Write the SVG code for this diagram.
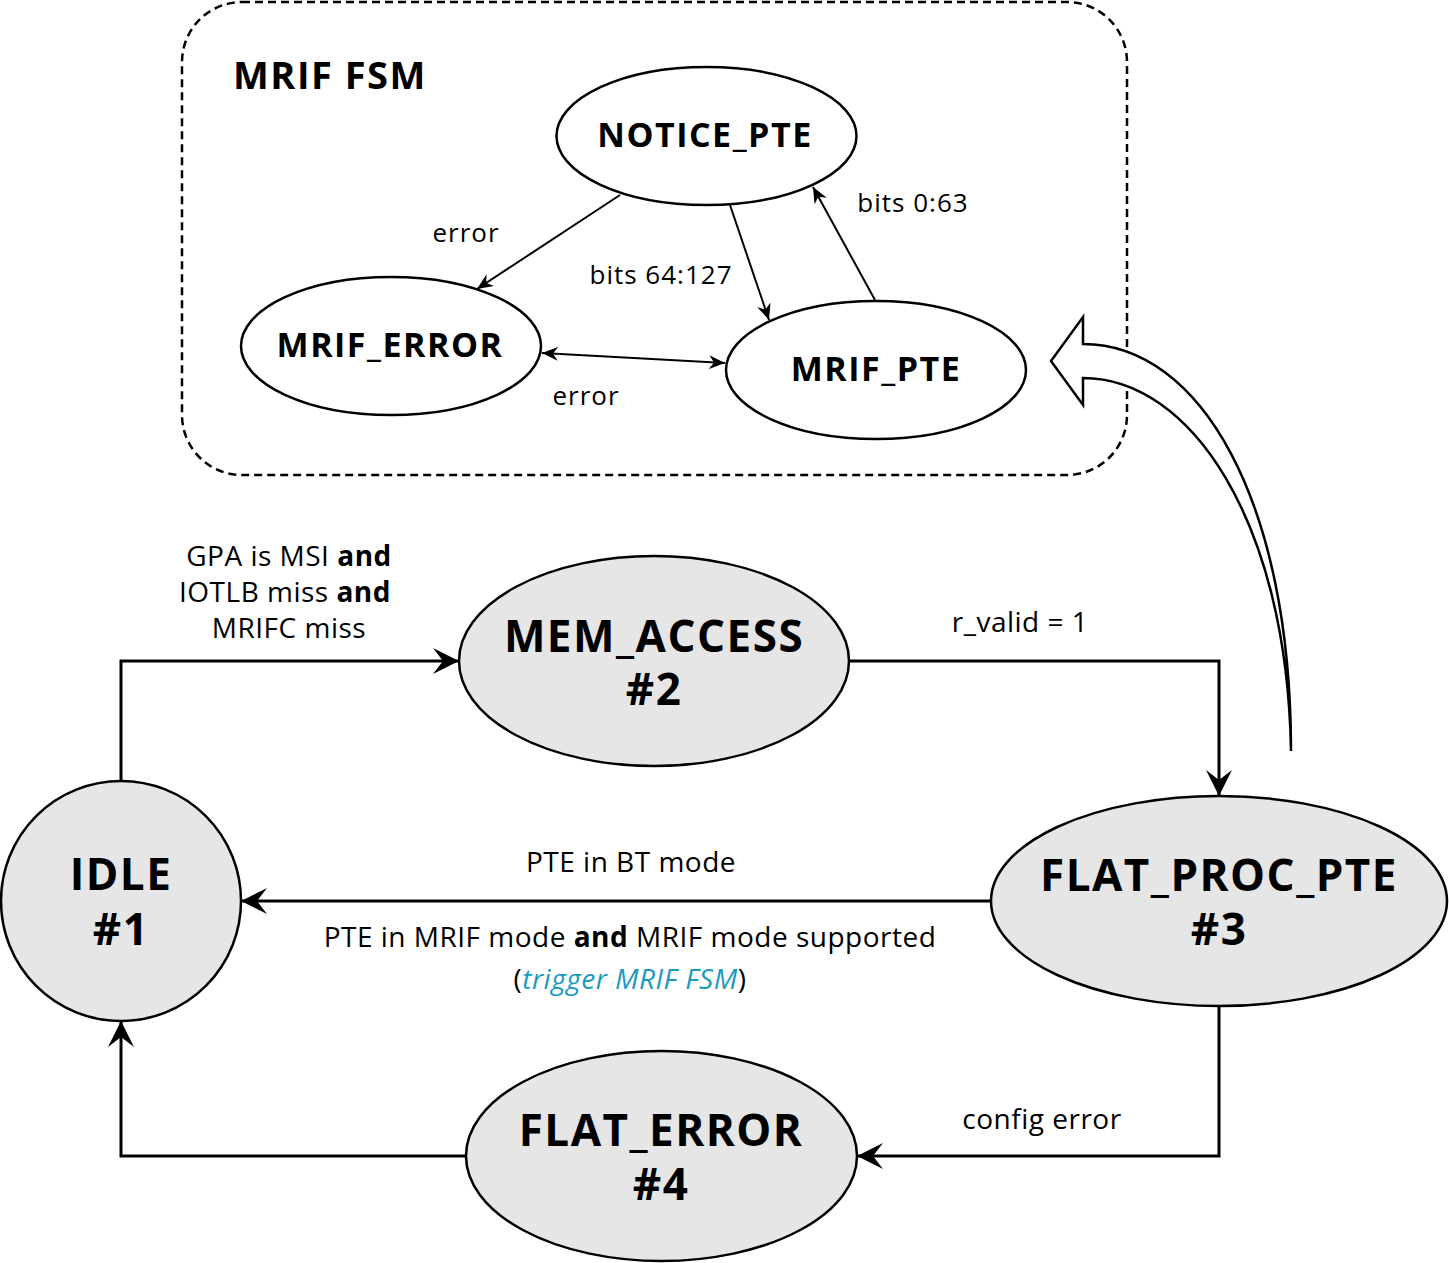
<svg xmlns="http://www.w3.org/2000/svg" width="1449" height="1263" viewBox="0 0 1449 1263">
<style>
text{font-family:"Open Sans","Noto Sans","Liberation Sans",sans-serif;fill:#000;text-anchor:middle}
.big{font-size:44px;font-weight:bold;letter-spacing:1.5px}
.mid{font-size:34px;font-weight:bold;letter-spacing:1.5px}
.lbl{font-size:28px;letter-spacing:0.5px}
.sm{font-size:26px;letter-spacing:1px}
.main{fill:#e6e6e6;stroke:#000;stroke-width:2.5}
.sub{fill:#fff;stroke:#000;stroke-width:2.5}
.conn{fill:none;stroke:#000;stroke-width:3}
.sconn{fill:none;stroke:#000;stroke-width:2}
</style>
<defs>
<marker id="big" markerUnits="userSpaceOnUse" markerWidth="28" markerHeight="28" refX="26" refY="13" orient="auto">
<path d="M0,0 L26,13 L0,26 L10,13 Z" fill="#000"/>
</marker>
<marker id="sa" markerUnits="userSpaceOnUse" markerWidth="18" markerHeight="16" refX="16" refY="7" orient="auto-start-reverse">
<path d="M0,0 L16,7 L0,14 L5,7 Z" fill="#000"/>
</marker>
</defs>
<rect x="182" y="2" width="945" height="473" rx="60" ry="60" fill="none" stroke="#000" stroke-width="2.5" stroke-dasharray="8 5"/>
<text x="233" y="89" style="font-size:38px;font-weight:bold;letter-spacing:1.5px;text-anchor:start">MRIF FSM</text>
<g id="connectors">
<path class="conn" d="M121,781 V661 H459" marker-end="url(#big)"/>
<path class="conn" d="M849,661 H1219 V796" marker-end="url(#big)"/>
<path class="conn" d="M991,901 H241" marker-end="url(#big)"/>
<path class="conn" d="M1219,1006 V1156 H857" marker-end="url(#big)"/>
<path class="conn" d="M466,1156 H121 V1021" marker-end="url(#big)"/>
<path class="sconn" d="M620,195 L477,289" marker-end="url(#sa)"/>
<path class="sconn" d="M730,205 L769,320" marker-end="url(#sa)"/>
<path class="sconn" d="M875,300 L813,187" marker-end="url(#sa)"/>
<path class="sconn" d="M542,353 L725,363" marker-start="url(#sa)" marker-end="url(#sa)"/>
<path d="M1291,751 C1291,500 1200,344 1083,344 L1083,317 L1051,361 L1083,405 L1083,378 C1190,378 1287,520 1291,751 Z" fill="#fff" stroke="#000" stroke-width="2.5" stroke-linejoin="miter"/>
</g>
<g id="labels">
<text class="lbl" x="289" y="566">GPA is MSI <tspan font-weight="bold">and</tspan></text>
<text class="lbl" x="285" y="602">IOTLB miss <tspan font-weight="bold">and</tspan></text>
<text class="lbl" x="289" y="638">MRIFC miss</text>
<text class="lbl" x="1020" y="632">r_valid = 1</text>
<text class="lbl" x="631" y="872">PTE in BT mode</text>
<text class="lbl" x="630" y="947">PTE in MRIF mode <tspan font-weight="bold">and</tspan> MRIF mode supported</text>
<text class="lbl" x="630" y="989">(<tspan fill="#1b9ac0" font-style="italic">trigger MRIF FSM</tspan>)</text>
<text class="lbl" x="1042" y="1129">config error</text>
<text class="sm" x="466" y="242">error</text>
<text class="sm" x="661" y="284">bits 64:127</text>
<text class="sm" x="913" y="212">bits 0:63</text>
<text class="sm" x="586" y="405">error</text>
</g>
<g id="notice_pte"><ellipse class="sub" cx="706.5" cy="136" rx="150" ry="69"/><text class="mid" x="705" y="147">NOTICE_PTE</text></g>
<g id="mrif_error"><ellipse class="sub" cx="391" cy="346" rx="150" ry="69"/><text class="mid" x="390" y="357">MRIF_ERROR</text></g>
<g id="mrif_pte"><ellipse class="sub" cx="876" cy="370" rx="150" ry="69"/><text class="mid" x="876" y="381">MRIF_PTE</text></g>
<g id="idle"><circle class="main" cx="121" cy="901" r="120"/><text class="big" x="121" y="890">IDLE<tspan x="121" dy="55">#1</tspan></text></g>
<g id="mem_access"><ellipse class="main" cx="654" cy="661" rx="195" ry="105"/><text class="big" x="654" y="652">MEM_ACCESS<tspan x="654" dy="53">#2</tspan></text></g>
<g id="flat_proc_pte"><ellipse class="main" cx="1219" cy="901" rx="228" ry="105"/><text class="big" x="1219" y="891">FLAT_PROC_PTE<tspan x="1219" dy="54">#3</tspan></text></g>
<g id="flat_error"><ellipse class="main" cx="661.5" cy="1156" rx="195.5" ry="105"/><text class="big" x="661" y="1146">FLAT_ERROR<tspan x="661" dy="54">#4</tspan></text></g>
</svg>
